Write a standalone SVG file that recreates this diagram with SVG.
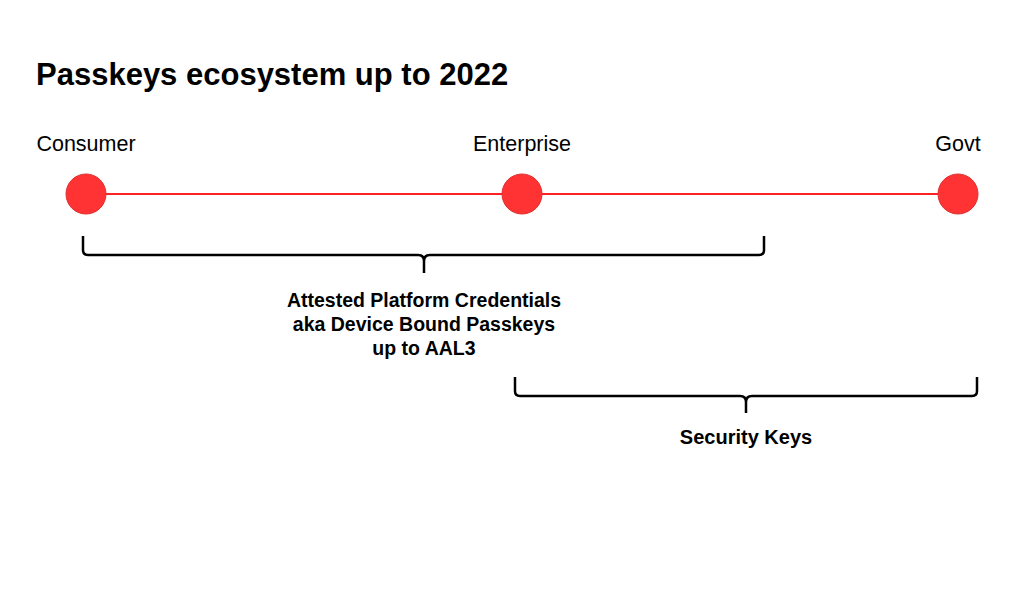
<svg xmlns="http://www.w3.org/2000/svg" width="1024" height="603" viewBox="0 0 1024 603">
<style>
.t{font-family:"Liberation Sans",Arial,sans-serif;fill:#000}
.title{font-size:31px;font-weight:bold}
.lab{font-size:21.5px}
.b{font-size:19.5px;font-weight:bold;text-anchor:middle}
.dot{fill:#FF3333;stroke:#E03030;stroke-width:1}
.br{fill:none;stroke:#000;stroke-width:2.5;stroke-linejoin:round;stroke-linecap:butt}
</style>
<rect width="1024" height="603" fill="#fff"/>
<text class="t title" x="36" y="85">Passkeys ecosystem up to 2022</text>
<g id="connectors">
<line x1="86" y1="194" x2="958" y2="194" stroke="#FF2222" stroke-width="2"/>
</g>
<g id="consumer">
<circle class="dot" cx="86" cy="194" r="20"/>
<text class="t lab" x="86" y="151" text-anchor="middle">Consumer</text>
</g>
<g id="enterprise">
<circle class="dot" cx="522" cy="194" r="20"/>
<text class="t lab" x="522" y="151" text-anchor="middle">Enterprise</text>
</g>
<g id="govt">
<circle class="dot" cx="958" cy="194" r="20"/>
<text class="t lab" x="958" y="151" text-anchor="middle">Govt</text>
</g>
<g id="platform">
<path class="br" d="M83,236 V250 Q83,255 88,255 H418 Q424,255 424,261 V273 M424,261 Q424,255 430,255 H759 Q764,255 764,250 V236"/>
<text class="t b" x="424" y="307">Attested Platform Credentials</text>
<text class="t b" x="424" y="331">aka Device Bound Passkeys</text>
<text class="t b" x="424" y="355">up to AAL3</text>
</g>
<g id="security-keys">
<path class="br" d="M515,377 V391 Q515,396 520,396 H740 Q746,396 746,402 V413 M746,402 Q746,396 752,396 H972 Q977,396 977,391 V377"/>
<text class="t b" x="746" y="444" style="font-size:20px">Security Keys</text>
</g>
</svg>
